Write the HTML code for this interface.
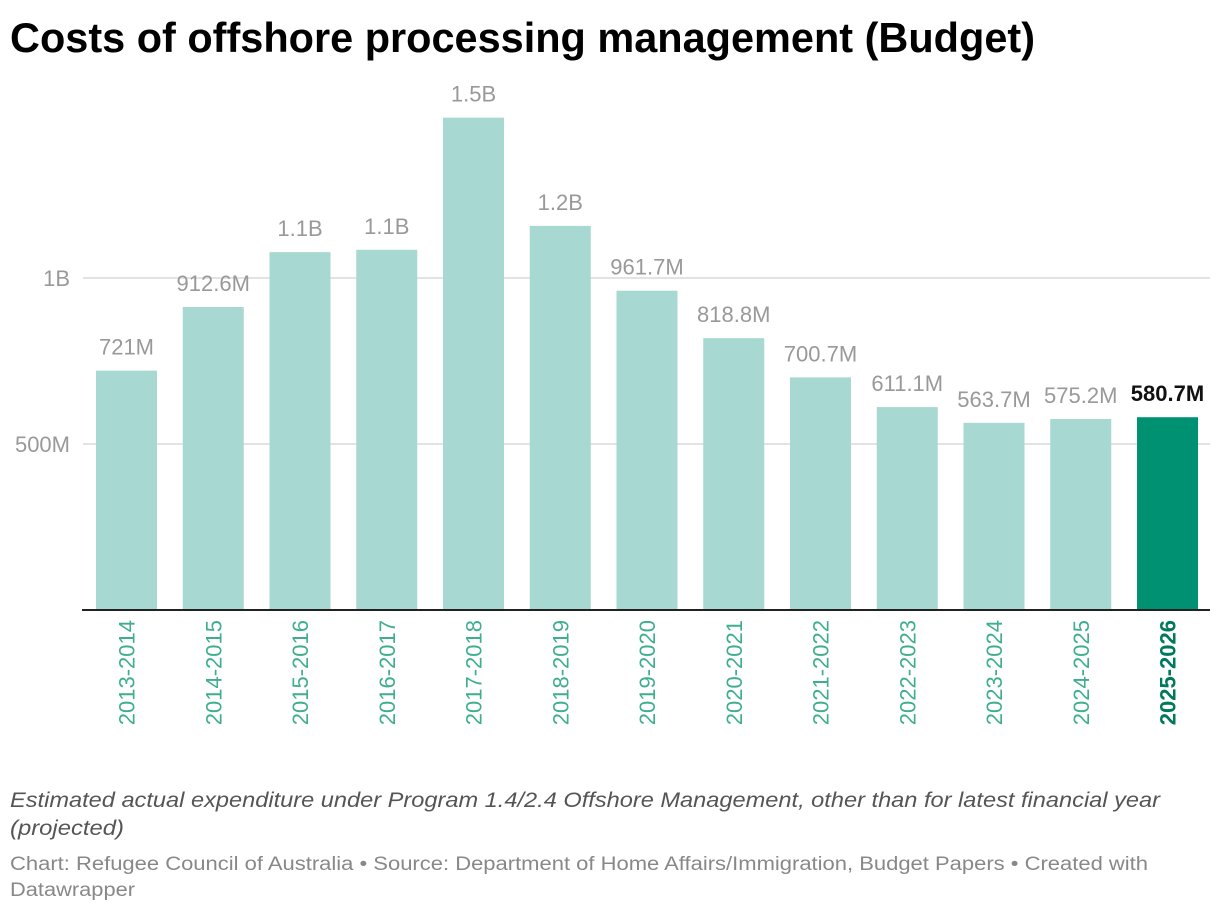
<!DOCTYPE html>
<html><head><meta charset="utf-8"><style>
body{margin:0;background:#fff;width:1220px;height:914px;overflow:hidden;font-family:"Liberation Sans",sans-serif}
</style></head><body>
<svg id="txt" style="position:absolute;left:0;top:0" width="1220" height="914" font-family="Liberation Sans, sans-serif">
<text x="10" y="52" font-size="42" font-weight="bold" fill="#000" textLength="1025" lengthAdjust="spacingAndGlyphs">Costs of offshore processing management (Budget)</text>
<g font-size="21" font-style="italic" fill="#555">
<text x="10" y="807" textLength="1150" lengthAdjust="spacingAndGlyphs">Estimated actual expenditure under Program 1.4/2.4 Offshore Management, other than for latest financial year</text>
<text x="10" y="835" textLength="114" lengthAdjust="spacingAndGlyphs">(projected)</text>
</g>
<g font-size="19" fill="#888">
<text x="10" y="870" textLength="1138" lengthAdjust="spacingAndGlyphs">Chart: Refugee Council of Australia • Source: Department of Home Affairs/Immigration, Budget Papers • Created with</text>
<text x="10" y="896" textLength="125" lengthAdjust="spacingAndGlyphs">Datawrapper</text>
</g>
</svg>
<svg id="ch" style="position:absolute;left:0;top:0" width="1220" height="760" font-family="Liberation Sans, sans-serif"></svg>
<script>
const categories=["2013-2014","2014-2015","2015-2016","2016-2017","2017-2018","2018-2019","2019-2020","2020-2021","2021-2022","2022-2023","2023-2024","2024-2025","2025-2026"];
const values=[721,912.6,1078,1085,1483,1157,961.7,818.8,700.7,611.1,563.7,575.2,580.7];
const valueLabels=["721M","912.6M","1.1B","1.1B","1.5B","1.2B","961.7M","818.8M","700.7M","611.1M","563.7M","575.2M","580.7M"];
const yTicks=[500,1000];
const yTickLabels=["500M","1B"];
const svg=document.getElementById('ch');const NS='http://www.w3.org/2000/svg';
const y0=610,k=166/500;const y=v=>y0-v*k;
const x=i=>96+i*86.75;const bw=61;
function mk(t,a){const e=document.createElementNS(NS,t);for(const q in a)e.setAttribute(q,a[q]);svg.appendChild(e);return e;}
yTicks.forEach((v,i)=>{
 const g=mk('line',{x1:83,x2:1210,y1:y(v),y2:y(v),stroke:'#e3e3e3','stroke-width':2});
 
 
 const t=mk('text',{x:70,y:y(v)+8,'text-anchor':'end','font-size':22,fill:'#999'});t.textContent=yTickLabels[i];
 
 
});
values.forEach((v,i)=>{
 const last=i===values.length-1;
 const r=mk('rect',{x:x(i),y:y(v),width:bw,height:y0-y(v),fill:last?'#009173':'#a7d8d1'});
 
 
 const t=mk('text',{x:x(i)+bw/2,y:y(v)-16,'text-anchor':'middle','font-size':22,fill:last?'#111':'#999','font-weight':last?'bold':'normal'});t.textContent=valueLabels[i];
 
 
 const cx=x(i)+bw/2+8;
 const l=mk('text',{x:cx,y:620,'text-anchor':'end','font-size':22,fill:last?'#00785e':'#3fae8f','font-weight':last?'bold':'normal',transform:`rotate(-90 ${cx} 620)`});l.textContent=categories[i];
 
 
});
const b=mk('line',{x1:82,x2:1210,y1:y0,y2:y0,stroke:'#222','stroke-width':2});


</script>
</body></html>
